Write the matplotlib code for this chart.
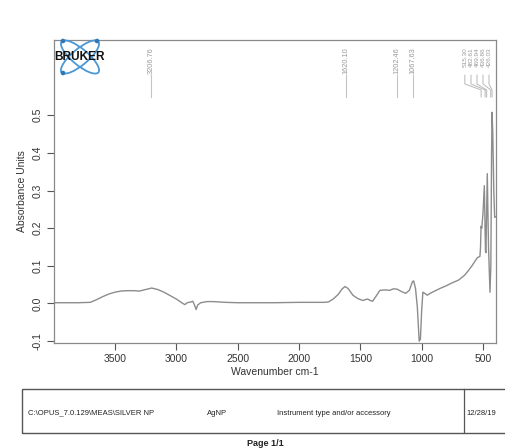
import matplotlib
matplotlib.use("Agg")
import matplotlib.pyplot as plt
from matplotlib import patches
from matplotlib.transforms import blended_transform_factory

plt.rcParams['font.family'] = ['Liberation Sans', 'DejaVu Sans']

# ========== 스펙트럼 데이터 ==========
wavenumber = [4000, 3900, 3800, 3700, 3650, 3600, 3550, 3500, 3450, 3400,
              3350, 3300, 3250, 3200, 3150, 3100, 3050, 3000, 2950, 2930,
              2910, 2880, 2865, 2850, 2838, 2825, 2800, 2750, 2700, 2600,
              2500, 2400, 2200, 2000, 1900, 1800, 1760, 1720, 1680, 1650,
              1625, 1600, 1560, 1520, 1480, 1460, 1440, 1420, 1400, 1370,
              1340, 1300, 1260, 1230, 1200, 1160, 1130, 1100, 1075, 1065,
              1050, 1035, 1020, 1010, 1000, 990, 975, 955, 930, 900,
              850, 800, 750, 700, 650, 620, 590, 560, 545, 525,
              520, 516, 510, 500, 489, 480, 476, 465, 455, 443,
              436, 430, 426, 420, 412, 405, 400]
absorbance = [0.002, 0.002, 0.002, 0.003, 0.010, 0.018, 0.025, 0.030, 0.033, 0.034,
              0.034, 0.033, 0.037, 0.041, 0.037, 0.030, 0.021, 0.012, 0.001, -0.003,
              0.002, 0.004, 0.006, -0.005, -0.016, -0.004, 0.002, 0.005, 0.005, 0.003,
              0.002, 0.002, 0.002, 0.003, 0.003, 0.003, 0.004, 0.012, 0.024, 0.038,
              0.045, 0.040, 0.022, 0.013, 0.008, 0.010, 0.012, 0.008, 0.006, 0.020,
              0.035, 0.036, 0.035, 0.039, 0.038, 0.031, 0.027, 0.035, 0.058, 0.060,
              0.040, -0.010, -0.100, -0.095, -0.020, 0.030, 0.027, 0.022, 0.027, 0.032,
              0.040, 0.047, 0.055, 0.062, 0.075, 0.087, 0.100, 0.115, 0.122, 0.125,
              0.150, 0.205, 0.200, 0.240, 0.313, 0.140, 0.135, 0.345, 0.150, 0.030,
              0.100, 0.400, 0.508, 0.450, 0.300, 0.229, 0.230]

# 피크 라벨
peak_single = [3206.76, 1620.10, 1202.46, 1067.63]
peak_cluster = [515.30, 482.61, 469.94, 436.86, 426.03]
cluster_label_x = [648, 598, 549, 500, 451]

x_ticks = [3500, 3000, 2500, 2000, 1500, 1000, 500]
y_ticks = [-0.1, 0.0, 0.1, 0.2, 0.3, 0.4, 0.5]

footer_path = "C:\\OPUS_7.0.129\\MEAS\\SILVER NP"
footer_sample = "AgNP"
footer_instr = "Instrument type and/or accessory"
footer_date = "12/28/19"

W, H = 505, 448
fig = plt.figure(figsize=(W / 100, H / 100), dpi=100)

def px(x0, y0, x1, y1):
    """픽셀 좌표(위 기준) -> figure fraction [l, b, w, h]"""
    return [x0 / W, 1 - y1 / H, (x1 - x0) / W, (y1 - y0) / H]

ax = fig.add_axes(px(54, 40, 496, 343))
ax.plot(wavenumber, absorbance, color='#8c8c8c', lw=1.0)
ax.set_xlim(3996, 394)
ax.set_ylim(-0.105, 0.70)
ax.set_xticks(x_ticks)
ax.set_yticks(y_ticks)
ax.set_yticklabels([f"{v:.1f}" for v in y_ticks], rotation=90, va='center')
ax.tick_params(direction='out', length=5, width=0.8, colors='#555555',
               labelcolor='#333333', labelsize=7.5, pad=3)
for s in ax.spines.values():
    s.set_color('#8a8a8a')
    s.set_linewidth(0.9)
ax.set_xlabel("Wavenumber cm-1", fontsize=7.5, color='#333333', labelpad=2)
ax.set_ylabel("Absorbance Units", fontsize=7.5, color='#333333', labelpad=4)

# 피크 라벨 / 리더선
tr = blended_transform_factory(ax.transData, ax.transAxes)
lab_col = '#9a9a9a'
for p in peak_single:
    ax.text(p, 0.977, f"{p:.2f}", rotation=90, ha='center', va='top',
            fontsize=5.3, color=lab_col, transform=tr)
    ax.plot([p, p], [0.884, 0.812], color='#c4c4c4', lw=0.8, transform=tr,
            clip_on=False)
for p, lx in zip(peak_cluster, cluster_label_x):
    ax.text(lx, 0.977, f"{p:.2f}", rotation=90, ha='center', va='top',
            fontsize=4.6, color=lab_col, transform=tr)
    ax.plot([lx, lx, p, p], [0.884, 0.855, 0.835, 0.812], color='#b8b8b8',
            lw=0.7, transform=tr, clip_on=False)

# BRUKER 로고
lax = fig.add_axes(px(54, 38, 108, 76))
lax.set_xlim(0, 54)
lax.set_ylim(0, 38)
lax.axis('off')
blue = '#4a98d6'
for ang in (40, -40):
    lax.add_patch(patches.Ellipse((26, 19), 48, 16, angle=ang, fill=False,
                                  edgecolor=blue, lw=1.3))
for (dx, dy) in [(9, 35), (9, 3), (43, 35)]:
    lax.add_patch(patches.Circle((dx, dy), 1.6, color='#2f78b8'))
lax.text(0.0, 19, "BRUKER", fontsize=8.6, fontweight='bold', color='#111111',
         va='center', ha='left', zorder=5)

# 하단 정보 표
fig.patches.append(patches.Rectangle((22 / W, 1 - 433 / H), (512 - 22) / W,
                                     (433 - 389) / H, transform=fig.transFigure,
                                     fill=False, edgecolor='#555555', lw=1.0))
fig.lines.append(plt.Line2D([464 / W, 464 / W], [1 - 432 / H, 1 - 389 / H],
                            transform=fig.transFigure, color='#555555', lw=0.9))
ty = 1 - 413 / H
fig.text(28 / W, ty, footer_path, fontsize=5.5, va='center', color='#222222')
fig.text(207 / W, ty, footer_sample, fontsize=5.5, va='center', color='#222222')
fig.text(277 / W, ty, footer_instr, fontsize=5.5, va='center', color='#222222')
fig.text(466 / W, ty, footer_date, fontsize=5.5, va='center', color='#222222')
fig.text(265 / W, 1 - 443 / H, "Page 1/1", fontsize=6.5, fontweight='bold',
         ha='center', va='center', color='#222222')

fig.savefig("out.png", dpi=100)
